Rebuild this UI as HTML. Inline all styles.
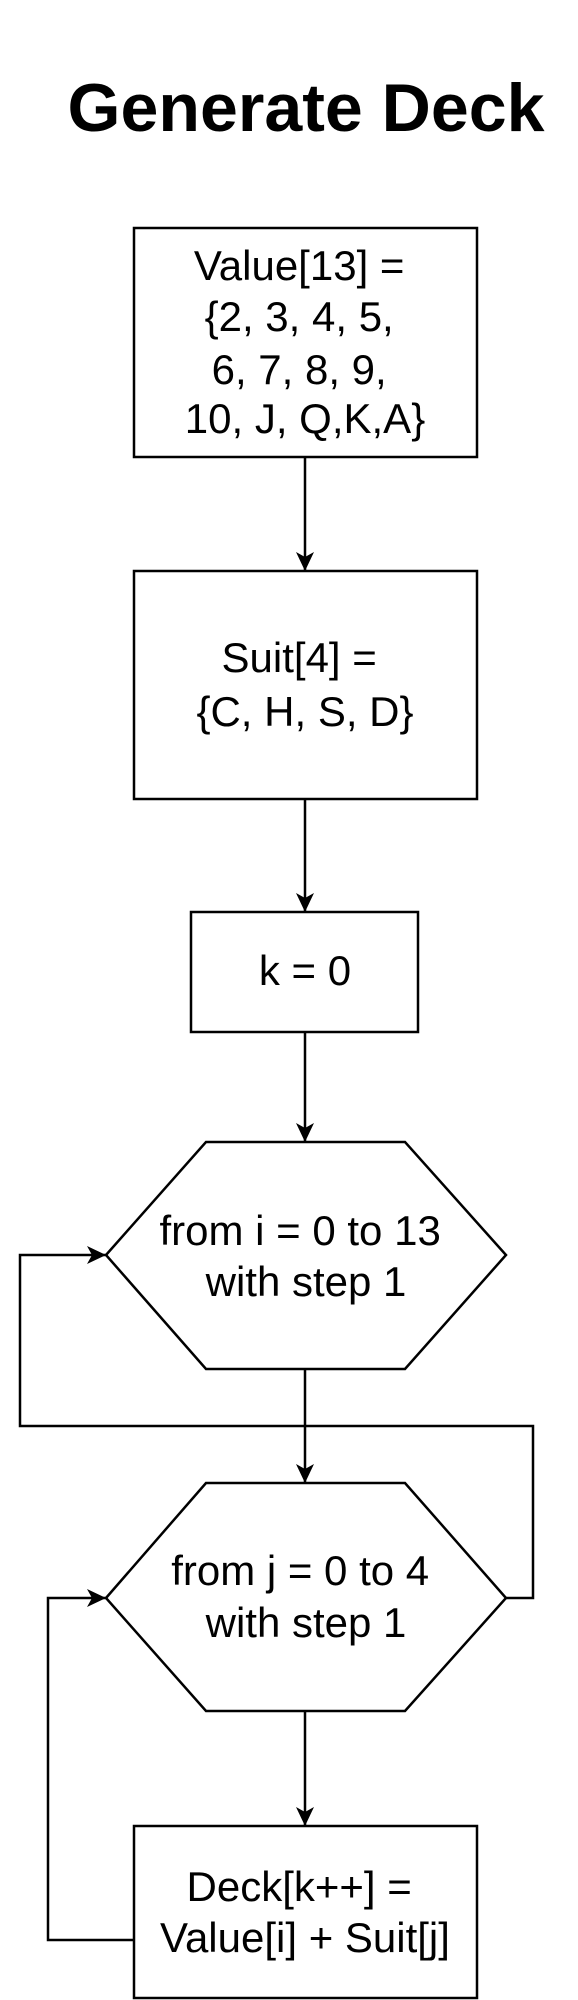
<!DOCTYPE html>
<html><head><meta charset="utf-8"><style>
html,body{margin:0;padding:0;background:#fff;}
svg{display:block;}
text{font-family:"Liberation Sans",Arial,sans-serif;fill:#000;}
</style></head><body>
<svg width="578" height="2000" viewBox="0 0 578 2000">
<defs>
<marker id="ah" markerWidth="20" markerHeight="18" refX="19" refY="9" orient="auto" markerUnits="userSpaceOnUse">
<path d="M0,0 L19,9 L0,18 L5,9 Z" fill="#000"/>
</marker>
</defs>
<text x="306" y="131" font-size="68" font-weight="bold" text-anchor="middle" textLength="477" lengthAdjust="spacingAndGlyphs">Generate Deck</text>
<g fill="none" stroke="#000" stroke-width="2.5">
<rect x="134" y="228" width="343" height="229" fill="#fff"/>
<rect x="134" y="571" width="343" height="228" fill="#fff"/>
<rect x="191" y="912" width="227" height="120" fill="#fff"/>
<polygon points="106,1255 206,1142 405,1142 506,1255 405,1369 206,1369" fill="#fff"/>
<polygon points="106,1598 206,1483 405,1483 506,1598 405,1711 206,1711" fill="#fff"/>
<rect x="134" y="1826" width="343" height="172" fill="#fff"/>
<line x1="305" y1="457" x2="305" y2="571" marker-end="url(#ah)"/>
<line x1="305" y1="799" x2="305" y2="912" marker-end="url(#ah)"/>
<line x1="305" y1="1032" x2="305" y2="1142" marker-end="url(#ah)"/>
<line x1="305" y1="1369" x2="305" y2="1483" marker-end="url(#ah)"/>
<line x1="305" y1="1711" x2="305" y2="1826" marker-end="url(#ah)"/>
<polyline points="506,1598 533,1598 533,1426 20,1426 20,1255 106,1255" marker-end="url(#ah)"/>
<polyline points="134,1940 48,1940 48,1598 106,1598" marker-end="url(#ah)"/>
</g>
<g font-size="42" text-anchor="middle">
<text x="305">
<tspan x="305" y="280">Value[13] =</tspan>
<tspan x="305" y="331">{2, 3, 4, 5,</tspan>
<tspan x="305" y="384">6, 7, 8, 9,</tspan>
<tspan x="305" y="433">10, J, Q,K,A}</tspan>
</text>
<text>
<tspan x="305" y="672">Suit[4] =</tspan>
<tspan x="305" y="726">{C, H, S, D}</tspan>
</text>
<text x="305" y="985">k = 0</text>
<text>
<tspan x="306" y="1245">from i = 0 to 13</tspan>
<tspan x="306" y="1296">with step 1</tspan>
</text>
<text>
<tspan x="306" y="1585">from j = 0 to 4</tspan>
<tspan x="306" y="1637">with step 1</tspan>
</text>
<text>
<tspan x="305" y="1901">Deck[k++] =</tspan>
<tspan x="305" y="1952">Value[i] + Suit[j]</tspan>
</text>
</g>
</svg>
</body></html>
